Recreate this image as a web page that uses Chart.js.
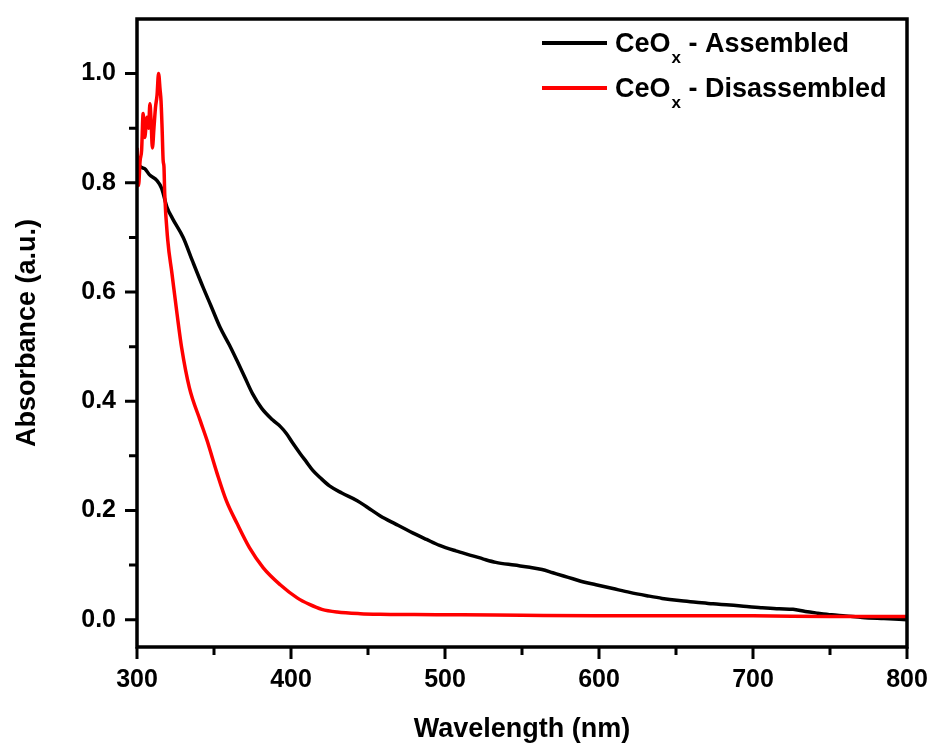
<!DOCTYPE html>
<html>
<head>
<meta charset="utf-8">
<script src="https://cdn.jsdelivr.net/npm/chart.js@4.4.1/dist/chart.umd.min.js"></script>
<style>
  html, body { margin: 0; padding: 0; background: #fff; }
  #wrap { width: 938px; height: 746px; }
</style>
</head>
<body>
<div id="wrap"><canvas id="absChart" width="938" height="746"></canvas></div>
<script>
// Datos
const assembledNm = [300, 302, 305, 308, 313, 316, 319.5, 323, 330, 336, 343, 348, 354, 360, 365, 370, 375, 381, 388, 393, 397, 401, 406, 410, 414, 419, 425, 433, 443, 450, 458, 468, 479, 488, 496.5, 507, 518, 525, 533, 545, 555, 563, 570, 577, 583, 590, 598, 609, 620, 631, 641, 652, 663, 674, 685, 696, 706, 717, 726, 734, 742, 751, 760, 771, 785, 800];
const assembledAbs = [0.845, 0.83, 0.826, 0.815, 0.804, 0.79, 0.755, 0.735, 0.70, 0.657, 0.608, 0.575, 0.535, 0.503, 0.474, 0.444, 0.414, 0.387, 0.366, 0.354, 0.341, 0.324, 0.304, 0.289, 0.274, 0.26, 0.245, 0.232, 0.218, 0.205, 0.19, 0.175, 0.159, 0.147, 0.136, 0.126, 0.117, 0.111, 0.105, 0.10, 0.096, 0.092, 0.086, 0.08, 0.075, 0.069, 0.064, 0.057, 0.05, 0.044, 0.039, 0.035, 0.032, 0.029, 0.027, 0.024, 0.022, 0.02, 0.019, 0.015, 0.012, 0.009, 0.007, 0.004, 0.002, 0.0];

const disassembledNm = [300, 301, 302, 303, 304, 305, 306.5, 307.5, 308.4, 309.2, 310, 311, 312, 313, 314, 315, 315.6, 316.3, 317, 317.5, 318, 320, 322.7, 326, 329, 334, 341, 345.5, 352, 358, 365, 373, 382, 393, 404, 412, 420, 430, 445, 458, 480, 511, 550, 598, 650, 700, 750, 800];
const disassembledAbs = [0.864, 0.795, 0.84, 0.86, 0.927, 0.883, 0.92, 0.90, 0.945, 0.91, 0.864, 0.90, 0.938, 0.96, 1.0, 0.97, 0.95, 0.90, 0.84, 0.83, 0.78, 0.694, 0.634, 0.56, 0.498, 0.425, 0.365, 0.328, 0.268, 0.218, 0.176, 0.132, 0.095, 0.064, 0.04, 0.028, 0.019, 0.014, 0.011, 0.010, 0.0095, 0.009, 0.008, 0.007, 0.007, 0.007, 0.006, 0.006];

const seriesNames = ['Assembled', 'Disassembled'];
const xTicks = [300, 400, 500, 600, 700, 800];
const xMinorTicks = [350, 450, 550, 650, 750];
const yTicks = [0.0, 0.2, 0.4, 0.6, 0.8, 1.0];
const yMinorTicks = [0.1, 0.3, 0.5, 0.7, 0.9];

const FONT = '"Liberation Sans", Arial, sans-serif';

function toPoints(xs, ys) {
    return xs.map((x, i) => ({ x: x, y: ys[i] }));
}

// Marco y marcas de los ejes (mayores y menores, hacia afuera)
const framePlugin = {
    id: 'frame',
    afterDraw(chart) {
        const { ctx, chartArea: a, scales: { x, y } } = chart;
        ctx.save();
        ctx.strokeStyle = '#000';
        ctx.lineWidth = 3.5;
        ctx.strokeRect(a.left, a.top, a.right - a.left, a.bottom - a.top);
        ctx.lineWidth = 3;
        ctx.beginPath();
        xTicks.forEach(v => {
            const px = x.getPixelForValue(v);
            ctx.moveTo(px, a.bottom); ctx.lineTo(px, a.bottom + 12);
        });
        xMinorTicks.forEach(v => {
            const px = x.getPixelForValue(v);
            ctx.moveTo(px, a.bottom); ctx.lineTo(px, a.bottom + 8);
        });
        yTicks.forEach(v => {
            const py = y.getPixelForValue(v);
            ctx.moveTo(a.left, py); ctx.lineTo(a.left - 12, py);
        });
        yMinorTicks.forEach(v => {
            const py = y.getPixelForValue(v);
            ctx.moveTo(a.left, py); ctx.lineTo(a.left - 8, py);
        });
        ctx.stroke();
        ctx.restore();
    }
};

// Leyenda con subíndice
const legendPlugin = {
    id: 'subLegend',
    afterDraw(chart) {
        const { ctx } = chart;
        const items = chart.data.datasets.map(d => ({ name: d.label, color: d.borderColor }));
        ctx.save();
        items.forEach((it, i) => {
            const ly = 43 + i * 45;
            ctx.strokeStyle = it.color;
            ctx.lineWidth = 4;
            ctx.beginPath();
            ctx.moveTo(542, ly); ctx.lineTo(607, ly);
            ctx.stroke();
            ctx.fillStyle = '#000';
            ctx.textBaseline = 'alphabetic';
            ctx.textAlign = 'left';
            let tx = 615;
            const base = ly + 9;
            ctx.font = 'bold 27px ' + FONT;
            ctx.fillText('CeO', tx, base);
            tx += ctx.measureText('CeO').width + 1;
            ctx.font = 'bold 17px ' + FONT;
            ctx.fillText('x', tx, base + 11);
            tx += ctx.measureText('x').width;
            ctx.font = 'bold 27px ' + FONT;
            ctx.fillText(' - ' + it.name, tx, base);
        });
        ctx.restore();
    }
};

const ctx = document.getElementById('absChart').getContext('2d');
new Chart(ctx, {
    type: 'line',
    data: {
        datasets: [{
            label: seriesNames[0],
            data: toPoints(assembledNm, assembledAbs),
            borderColor: '#000000',
            borderWidth: 3.5,
            pointRadius: 0,
            cubicInterpolationMode: 'monotone',
            order: 2
        }, {
            label: seriesNames[1],
            data: toPoints(disassembledNm, disassembledAbs),
            borderColor: '#ff0000',
            borderWidth: 3.5,
            pointRadius: 0,
            cubicInterpolationMode: 'monotone',
            order: 1
        }]
    },
    options: {
        responsive: false,
        animation: false,
        layout: { padding: { top: 19, right: 31, left: 0, bottom: 0 } },
        plugins: {
            legend: { display: false },
            tooltip: { enabled: false }
        },
        scales: {
            x: {
                type: 'linear',
                min: 300,
                max: 800,
                afterBuildTicks: s => { s.ticks = xTicks.map(v => ({ value: v })); },
                afterFit: s => { s.height = 99; s.paddingLeft = 0; s.paddingRight = 0; },
                grid: { display: false, drawTicks: false },
                border: { display: false },
                ticks: {
                    color: '#000',
                    padding: 18,
                    maxRotation: 0,
                    font: { family: FONT, size: 25, weight: 'bold' },
                    callback: v => String(v)
                },
                title: {
                    display: true,
                    text: 'Wavelength (nm)',
                    color: '#000',
                    padding: { top: 0, bottom: 0 },
                    font: { family: FONT, size: 27, weight: 'bold' }
                }
            },
            y: {
                min: -0.05,
                max: 1.1,
                afterBuildTicks: s => { s.ticks = yTicks.map(v => ({ value: v })); },
                afterFit: s => { s.width = 137; s.paddingTop = 0; s.paddingBottom = 0; },
                grid: { display: false, drawTicks: false },
                border: { display: false },
                ticks: {
                    color: '#000',
                    padding: 21,
                    font: { family: FONT, size: 25, weight: 'bold' },
                    callback: v => Number(v).toFixed(1)
                },
                title: {
                    display: true,
                    text: 'Absorbance (a.u.)',
                    color: '#000',
                    padding: { top: 11, bottom: 0 },
                    font: { family: FONT, size: 27, weight: 'bold' }
                }
            }
        }
    },
    plugins: [framePlugin, legendPlugin]
});
</script>
</body>
</html>
